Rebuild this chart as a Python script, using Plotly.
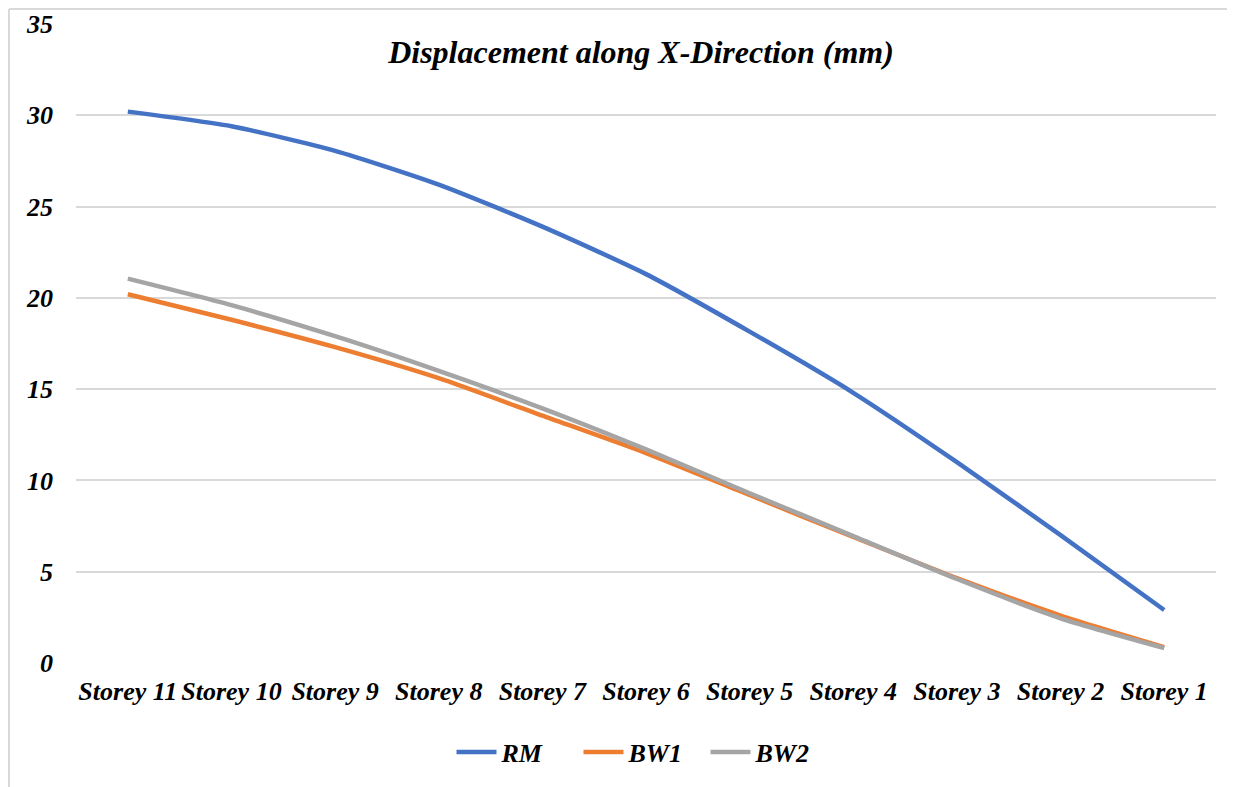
import plotly.graph_objects as go

categories = ["Storey 11", "Storey 10", "Storey 9", "Storey 8", "Storey 7", "Storey 6",
              "Storey 5", "Storey 4", "Storey 3", "Storey 2", "Storey 1"]
rm = [30.2, 29.4, 28.05, 26.2, 23.9, 21.3, 18.15, 14.8, 11.0, 7.0, 2.9]
bw1 = [20.2, 18.8, 17.3, 15.6, 13.55, 11.5, 9.2, 6.9, 4.65, 2.6, 0.87]
bw2 = [21.05, 19.6, 17.9, 16.0, 13.95, 11.7, 9.3, 6.95, 4.6, 2.45, 0.82]
series_names = ["RM", "BW1", "BW2"]
series_colors = ["#4472C4", "#ED7D31", "#A5A5A5"]
y_ticks = [0, 5, 10, 15, 20, 25, 30, 35]

FONT = "Liberation Serif"
fig = go.Figure()
for name, vals, col in zip(series_names, [rm, bw1, bw2], series_colors):
    fig.add_trace(go.Scatter(x=categories, y=vals, name=f"<b><i>{name}</i></b>", mode="lines",
                             line=dict(color=col, width=4.5, shape="spline", smoothing=0.6)))

# page body has an 8px margin, so the figure is offset by (8, 8)
W, H = 1227, 779
L, T = 68, 16
PW, PH = 1140, 639
fig.update_layout(
    width=W, height=H,
    margin=dict(l=L, r=W - L - PW, t=T, b=H - T - PH, pad=0, autoexpand=False),
    paper_bgcolor="white", plot_bgcolor="white",
    font=dict(family=FONT, size=26, color="black"),
    title=dict(text="<b><i>Displacement along X-Direction (mm)</i></b>",
               x=(641 - 8) / W, xanchor="center", y=1 - (52 - 8) / H, yanchor="middle",
               font=dict(family=FONT, size=32, color="black")),
    xaxis=dict(type="category", range=[-0.5, 10.5], showgrid=False, showline=False, ticks="",
               automargin=False,
               tickvals=categories, ticktext=[f"<b><i>{c}</i></b>" for c in categories],
               tickfont=dict(family=FONT, size=26), ticklabelstandoff=10),
    yaxis=dict(range=[0, 35], tickvals=y_ticks, ticktext=[f"<b><i>{v}</i></b>" for v in y_ticks],
               automargin=False,
               showgrid=True, gridcolor="#d9d9d9", gridwidth=1.5, zeroline=False,
               showline=False, ticks="", tickfont=dict(family=FONT, size=26), ticklabelstandoff=22),
    legend=dict(orientation="h", x=(642 - 8 - L) / PW, xanchor="center",
                y=-(752 - 8 - T - PH) / PH, yanchor="middle",
                entrywidth=72, itemwidth=40,
                font=dict(family=FONT, size=26), traceorder="normal"),
    showlegend=True,
)

fig.add_shape(type="line", xref="paper", yref="paper", x0=-(L - 1) / PW, x1=-(L - 1) / PW,
              y0=-0.3, y1=1 + (T - 1) / PH, line=dict(color="#d9d9d9", width=2))
fig.add_shape(type="line", xref="paper", yref="paper", x0=-(L - 1) / PW, x1=1.1,
              y0=1 + (T - 1) / PH, y1=1 + (T - 1) / PH, line=dict(color="#d9d9d9", width=2))

fig.write_html("out.html")
